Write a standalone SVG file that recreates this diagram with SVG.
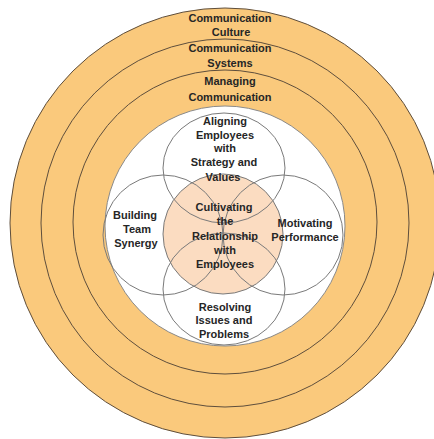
<svg xmlns="http://www.w3.org/2000/svg" width="434" height="439" viewBox="0 0 434 439">
<style>
.ring{fill:none;stroke:#5e4e3c;stroke-width:1}
.petal{fill:none;stroke:#7a7a7a;stroke-width:1}
text{font-family:"Liberation Sans",Arial,sans-serif;font-weight:bold;font-size:11px;fill:#262626;text-anchor:middle}
</style>
<rect width="434" height="439" fill="#ffffff"/>
<g id="ring-culture">
<circle cx="225" cy="223" r="215" fill="#FAC97C" stroke="#5e4e3c" stroke-width="1"/>
<text x="230" y="22">Communication</text>
<text x="231" y="36">Culture</text>
</g>
<g id="ring-systems">
<circle class="ring" cx="225" cy="223" r="184"/>
<text x="230" y="52">Communication</text>
<text x="230" y="67">Systems</text>
</g>
<g id="ring-managing">
<circle class="ring" cx="225" cy="222" r="152"/>
<text x="230" y="85">Managing</text>
<text x="230" y="101">Communication</text>
</g>
<g id="inner">
<circle cx="225" cy="226" r="120" fill="#ffffff" stroke="#8a8a8a" stroke-width="1"/>
</g>
<g id="center">
<circle cx="223" cy="234" r="60" fill="#FBDCC1" stroke="#7a7a7a" stroke-width="1"/>
</g>
<g id="aligning">
<ellipse class="petal" cx="224" cy="168" rx="61" ry="55"/>
<text x="225" y="125">Aligning</text>
<text x="225" y="139">Employees</text>
<text x="225" y="152">with</text>
<text x="224" y="166">Strategy and</text>
<text x="223" y="181">Values</text>
</g>
<g id="building">
<circle class="petal" cx="163" cy="235" r="60"/>
<text x="135" y="219">Building</text>
<text x="137" y="233">Team</text>
<text x="136" y="247">Synergy</text>
</g>
<g id="motivating">
<circle class="petal" cx="283" cy="235" r="60"/>
<text x="305" y="227">Motivating</text>
<text x="305" y="241">Performance</text>
</g>
<g id="resolving">
<ellipse class="petal" cx="224" cy="289" rx="61" ry="56"/>
<text x="225" y="311">Resolving</text>
<text x="224" y="324">Issues and</text>
<text x="224" y="338">Problems</text>
</g>
<g id="cultivating">
<text x="224" y="211">Cultivating</text>
<text x="225" y="225">the</text>
<text x="225" y="240">Relationship</text>
<text x="225" y="254">with</text>
<text x="225" y="268">Employees</text>
</g>
</svg>
